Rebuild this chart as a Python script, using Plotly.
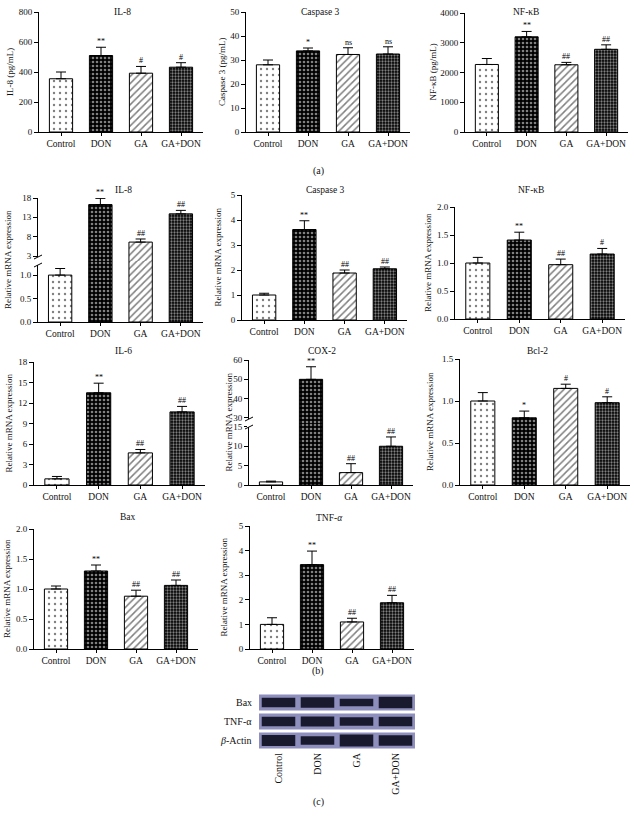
import plotly.graph_objects as go

W, H = 634, 816
FONT = "Liberation Serif"

groups = ["Control", "DON", "GA", "GA+DON"]

# ---------------- (a) ELISA ----------------
il8_pg = [355, 510, 392, 432]
il8_pg_err = [45, 55, 45, 30]
il8_pg_sig = ["", "**", "#", "#"]

casp3_pg = [28.0, 33.8, 32.3, 32.5]
casp3_pg_err = [2.0, 1.2, 2.8, 3.0]
casp3_pg_sig = ["", "*", "ns", "ns"]

nfkb_pg = [2270, 3200, 2260, 2780]
nfkb_pg_err = [200, 180, 80, 150]
nfkb_pg_sig = ["", "**", "##", "##"]

# ---------------- (b) mRNA ----------------
il8_m = [1.0, 16.3, 6.6, 13.9]
il8_m_err = [0.14, 1.6, 0.8, 0.9]
il8_m_sig = ["", "**", "##", "##"]

casp3_m = [1.0, 3.62, 1.88, 2.05]
casp3_m_err = [0.07, 0.35, 0.12, 0.07]
casp3_m_sig = ["", "**", "##", "##"]

nfkb_m = [1.0, 1.41, 0.97, 1.16]
nfkb_m_err = [0.10, 0.14, 0.10, 0.10]
nfkb_m_sig = ["", "**", "##", "#"]

il6_m = [0.9, 13.5, 4.7, 10.7]
il6_m_err = [0.35, 1.4, 0.5, 0.8]
il6_m_sig = ["", "**", "##", "##"]

cox2_m = [0.8, 50.0, 3.2, 10.0]
cox2_m_err = [0.2, 6.5, 2.3, 2.4]
cox2_m_sig = ["", "**", "##", "##"]

bcl2_m = [1.0, 0.80, 1.15, 0.98]
bcl2_m_err = [0.10, 0.08, 0.05, 0.07]
bcl2_m_sig = ["", "*", "#", "#"]

bax_m = [1.0, 1.30, 0.88, 1.06]
bax_m_err = [0.05, 0.10, 0.10, 0.09]
bax_m_sig = ["", "**", "##", "##"]

tnf_m = [1.0, 3.43, 1.10, 1.88]
tnf_m_err = [0.27, 0.55, 0.15, 0.30]
tnf_m_sig = ["", "**", "##", "##"]

# ---------------- (c) western blot band strength ----------------
blot_rows = ["Bax", "TNF-α", "<i>β</i>-Actin"]
bax_band = [0.80, 0.88, 0.62, 0.98]
tnf_band = [0.80, 0.85, 0.72, 0.80]
actin_band = [0.95, 0.72, 1.00, 0.90]

# ---------------- helpers ----------------
def fx(p):
    return p / W


def fy(p):
    return 1 - p / H


fig = go.Figure()
layout = {}
annotations = []
shapes = []
counters = {"x": 0, "y": 0}

pattern = dict(
    shape=[".", ".", "/", "."],
    bgcolor=["white", "black", "white", "black"],
    fgcolor=["black", "white", "black", "white"],
    size=[6, 4, 5, 3],
    solidity=[0.12, 0.35, 0.3, 0.45],
)

AX = dict(showline=True, linecolor="black", linewidth=1, showgrid=False,
          zeroline=False, ticks="outside", tickcolor="black", tickwidth=1,
          fixedrange=True, automargin=False)


def add_panel(title, title_xy, ytitle, ytitle_x, vals, errs, sig, xl, xr, segs):
    counters["x"] += 1
    xi = counters["x"]
    yids = []
    for s in segs:
        counters["y"] += 1
        yids.append(counters["y"])
    xname = "xaxis" if xi == 1 else f"xaxis{xi}"
    layout[xname] = dict(AX, domain=[fx(xl), fx(xr)], range=[-0.55, 3.55],
                         tickvals=[0, 1, 2, 3], ticktext=groups, ticklen=3,
                         tickfont=dict(size=9.5, family=FONT, color="#111"),
                         anchor=f"y{yids[0]}")
    tops = [v + e for v, e in zip(vals, errs)]
    for k, (s, yi) in enumerate(zip(segs, yids)):
        yname = "yaxis" if yi == 1 else f"yaxis{yi}"
        layout[yname] = dict(AX, domain=[fy(s["bottom"]), fy(s["top"])],
                             range=s["range"], tickvals=s["tickvals"],
                             ticktext=s.get("ticktext"), ticklen=4,
                             tickfont=dict(size=9, family=FONT, color="#111"),
                             anchor=f"x{xi}")
        fig.add_trace(go.Bar(
            x=[0, 1, 2, 3], y=vals, xaxis=f"x{xi}", yaxis=f"y{yi}",
            width=0.58,
            marker=dict(color="white", line=dict(color="black", width=1),
                        pattern=pattern),
            error_y=dict(type="data", symmetric=False, array=errs,
                         arrayminus=[0] * 4, color="black", thickness=1,
                         width=5),
            showlegend=False, hoverinfo="skip"))
    # significance labels
    for i, (t, txt) in enumerate(zip(tops, sig)):
        if not txt:
            continue
        yi = yids[0]
        if len(segs) > 1 and t > segs[0]["range"][1]:
            yi = yids[1]
        annotations.append(dict(x=i, y=t, xref=f"x{xi}", yref=f"y{yi}",
                                text=txt, showarrow=False, yanchor="bottom",
                                yshift=-1,
                                font=dict(size=8, family=FONT, color="black")))
    # titles
    annotations.append(dict(x=fx(title_xy[0]), y=fy(title_xy[1]), xref="paper",
                            yref="paper", text=title, showarrow=False,
                            font=dict(size=9.5, family=FONT, color="#111")))
    ytop = min(s["top"] for s in segs)
    ybot = max(s["bottom"] for s in segs)
    annotations.append(dict(x=fx(ytitle_x), y=fy((ytop + ybot) / 2),
                            xref="paper", yref="paper", text=ytitle,
                            textangle=-90, showarrow=False,
                            xanchor="center", yanchor="middle",
                            font=dict(size=9, family=FONT, color="#111")))
    # axis break marks
    if len(segs) > 1:
        yb = segs[0]["top"]
        shapes.append(dict(type="rect", xref="paper", yref="paper",
                           x0=fx(xl - 2), x1=fx(xl + 2), y0=fy(yb + 4), y1=fy(yb - 4),
                           fillcolor="white", line=dict(width=0), layer="above"))
        for d in (-4, 4):
            shapes.append(dict(type="line", xref="paper", yref="paper",
                               x0=fx(xl - 4), x1=fx(xl + 4),
                               y0=fy(yb + d + 2), y1=fy(yb + d - 2),
                               line=dict(color="black", width=1), layer="above"))


def seg(top, bottom, rng, tv, tt=None):
    return dict(top=top, bottom=bottom, range=rng, tickvals=tv, ticktext=tt)


rel = "Relative mRNA expression"
dec = lambda vs: [f"{v:.1f}" for v in vs]

# Row 1 (a)
add_panel("IL-8", (112, 5), "IL-8 (pg/mL)", 10, il8_pg, il8_pg_err, il8_pg_sig,
          39, 203, [seg(12, 132, [0, 800], [0, 200, 400, 600, 800])])
add_panel("Caspase 3", (320, 5), "Caspase 3 (pg/mL)", 222, casp3_pg, casp3_pg_err,
          casp3_pg_sig, 246, 410, [seg(12, 132, [0, 50], [0, 10, 20, 30, 40, 50])])
add_panel("NF-κB", (541, 5), "NF-κB (pg/mL)", 432, nfkb_pg, nfkb_pg_err, nfkb_pg_sig,
          465, 628, [seg(13, 132, [0, 4000], [0, 1000, 2000, 3000, 4000])])

# Row 2 (b)
add_panel("IL-8", (113, 183), rel, 8, il8_m, il8_m_err, il8_m_sig, 38, 203,
          [seg(261, 322, [0, 1.30], [0, 0.5, 1.0], dec([0, 0.5, 1.0])),
           seg(198, 261, [1.71, 18], [3, 8, 13, 18])])
add_panel("Caspase 3", (325, 183), rel, 217, casp3_m, casp3_m_err, casp3_m_sig,
          242, 407, [seg(195, 320, [0, 5], [0, 1, 2, 3, 4, 5])])
add_panel("NF-κB", (546, 183), rel, 428, nfkb_m, nfkb_m_err, nfkb_m_sig,
          455, 625, [seg(207, 319, [0, 2], [0, 0.5, 1, 1.5, 2], dec([0, 0.5, 1, 1.5, 2]))])

# Row 3
add_panel("IL-6", (113, 351), rel, 8, il6_m, il6_m_err, il6_m_sig, 34, 205,
          [seg(362, 485, [0, 18], [0, 3, 6, 9, 12, 15, 18])])
add_panel("COX-2", (322, 351), rel, 228, cox2_m, cox2_m_err, cox2_m_sig, 249, 413,
          [seg(423, 485, [0, 16.0], [0, 5, 10, 15]),
           seg(360, 423, [27.4, 60], [30, 40, 50, 60])])
add_panel("Bcl-2", (550, 351), rel, 430, bcl2_m, bcl2_m_err, bcl2_m_sig, 460, 630,
          [seg(359, 485, [0, 1.5], [0, 0.5, 1, 1.5], dec([0, 0.5, 1, 1.5]))])

# Row 4
add_panel("Bax", (118, 517), rel, 7, bax_m, bax_m_err, bax_m_sig, 34, 198,
          [seg(529, 649, [0, 2], [0, 0.5, 1, 1.5, 2], dec([0, 0.5, 1, 1.5, 2]))])
add_panel("TNF-<i>α</i>", (329, 518), rel, 223, tnf_m, tnf_m_err, tnf_m_sig, 250, 414,
          [seg(526, 649, [0, 5], [0, 1, 2, 3, 4, 5])])

# ---------------- (c) blot ----------------
counters["x"] += 1
bx = counters["x"]
counters["y"] += 1
by = counters["y"]
layout[f"xaxis{bx}"] = dict(domain=[fx(259), fx(415)], range=[-0.5, 3.5],
                            tickvals=[0, 1, 2, 3], ticktext=groups, tickangle=-90,
                            showline=False, showgrid=False, zeroline=False,
                            ticks="", anchor=f"y{by}", fixedrange=True,
                            automargin=False,
                            tickfont=dict(size=10, family=FONT, color="#111"))
layout[f"yaxis{by}"] = dict(domain=[fy(750), fy(693)], range=[0, 3], visible=False,
                            anchor=f"x{bx}", fixedrange=True, automargin=False)

for r, band in zip([2, 1, 0], [bax_band, tnf_band, actin_band]):
    fig.add_trace(go.Bar(x=[0, 1, 2, 3], y=[0.84] * 4, base=[r + 0.08] * 4,
                         width=1.0, marker=dict(color="#8e8fbd", line=dict(width=0)),
                         xaxis=f"x{bx}", yaxis=f"y{by}", showlegend=False,
                         hoverinfo="skip"))
    hts = [b * 0.62 for b in band]
    fig.add_trace(go.Bar(x=[0, 1, 2, 3], y=hts, base=[r + 0.5 - h / 2 for h in hts],
                         width=0.86, marker=dict(color="#1a1a2e", line=dict(width=0)),
                         xaxis=f"x{bx}", yaxis=f"y{by}", showlegend=False,
                         hoverinfo="skip"))

for r, name in zip([2, 1, 0], blot_rows):
    annotations.append(dict(x=fx(254), y=r + 0.5, xref="paper", yref=f"y{by}",
                            text=name, xanchor="right", showarrow=False,
                            font=dict(size=10, family=FONT, color="#111")))

for lab, yy in [("(a)", 163), ("(b)", 679), ("(c)", 810)]:
    annotations.append(dict(x=fx(318), y=fy(yy), xref="paper", yref="paper",
                            text=lab, showarrow=False,
                            font=dict(size=10, family=FONT, color="#111")))

fig.update_layout(
    width=W, height=H, margin=dict(l=0, r=0, t=0, b=0, autoexpand=False),
    paper_bgcolor="white", plot_bgcolor="white",
    barmode="overlay", showlegend=False,
    font=dict(family=FONT, color="#111"),
    annotations=annotations, shapes=shapes,
    **layout,
)

fig.write_html(
    "out.html",
    config={"displayModeBar": False, "staticPlot": True},
    post_script="document.body.style.margin='0';"
                "document.documentElement.style.overflow='hidden';",
)
